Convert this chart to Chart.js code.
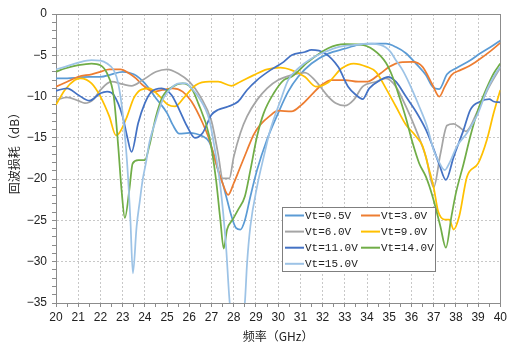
<!DOCTYPE html>
<html>
<head>
<meta charset="utf-8">
<script src="https://cdn.jsdelivr.net/npm/chart.js@4/dist/chart.umd.min.js"></script>
<style>
  html, body { margin: 0; padding: 0; background: #fff; }
  #c { display: block; }
</style>
</head>
<body>
<canvas id="c" width="510" height="346"></canvas>
<script>
// Return loss (dB) versus frequency (GHz) for each tuning voltage Vt
const seriesLabels = ['Vt=0.5V', 'Vt=3.0V', 'Vt=6.0V', 'Vt=9.0V', 'Vt=11.0V', 'Vt=14.0V', 'Vt=15.0V'];
const seriesColors = ['#5B9BD5', '#ED7D31', '#A5A5A5', '#FFC000', '#4472C4', '#70AD47', '#9DC3E6'];

const freqV05 = [20, 20.5, 21, 21.5, 22, 22.5, 23, 23.5, 24, 24.5, 25, 25.25, 25.55, 26, 26.3, 26.6, 26.9, 27.1, 27.3, 27.5, 27.7, 27.9, 28.1, 28.3, 28.5, 28.75, 29.05, 29.5, 30, 30.45, 30.9, 31.5, 32.25, 33, 33.6, 34.2, 34.85, 35.3, 35.75, 36.2, 36.65, 36.95, 37.25, 37.6, 38.05, 38.65, 39.1, 39.7, 40];
const rlV05 = [-7.8, -7.8, -7.7, -7.6, -7.6, -7.3, -7.0, -7.3, -8.4, -10.2, -12.0, -13.4, -14.5, -14.4, -14.5, -14.8, -15.5, -17, -19, -20.5, -22.5, -24.5, -25.9, -26.1, -25, -22.1, -18.9, -15.2, -12, -9.4, -7.6, -6.0, -4.8, -4.2, -3.75, -3.6, -3.6, -4.0, -4.75, -6.0, -7.4, -8.8, -9.1, -7.3, -6.5, -5.6, -4.75, -3.75, -3.2];

const freqV30 = [20, 20.5, 21, 21.6, 22, 22.4, 22.9, 23.3, 23.6, 23.9, 24.4, 24.8, 25.25, 25.7, 26.1, 26.6, 26.9, 27.2, 27.5, 27.75, 28.0, 28.3, 28.6, 28.9, 29.2, 29.6, 30.0, 30.6, 31.05, 31.5, 31.95, 32.4, 33.0, 33.6, 34.0, 34.6, 35.0, 35.5, 36.05, 36.5, 36.95, 37.25, 37.5, 37.8, 38.2, 38.6, 39.0, 39.6, 40];
const rlV30 = [-8.8, -8.2, -7.6, -7.3, -7.0, -6.7, -6.7, -7.2, -7.8, -8.6, -9.4, -9.2, -9.0, -9.4, -10.6, -13.2, -15.2, -18, -20.5, -21.9, -20.5, -18.5, -16.5, -14.6, -13.4, -12.4, -11.7, -11.8, -11.0, -9.8, -8.6, -8.0, -8.0, -8.2, -8.2, -7.2, -6.4, -5.85, -5.8, -6.4, -8.6, -10.0, -8.8, -7.4, -6.8, -6.3, -5.6, -4.4, -3.5];

const freqV60 = [20, 20.5, 21, 21.3, 21.7, 22, 22.5, 23, 23.4, 23.9, 24.5, 25, 25.5, 26, 26.5, 27, 27.3, 27.5, 27.8, 28, 28.3, 28.6, 29.05, 29.5, 30, 30.6, 31.2, 31.65, 32.25, 32.6, 33, 33.4, 33.8, 34.4, 34.85, 35.3, 35.75, 36.2, 36.65, 37, 37.3, 37.6, 37.9, 38.1, 38.45, 39, 39.5, 40];
const rlV60 = [-10.4, -10.1, -10.5, -10.8, -10.3, -9.2, -8.2, -8.5, -8.7, -8.0, -7.0, -6.7, -7.2, -8.2, -10.0, -13.0, -17.0, -19.9, -19.9, -17.3, -14.4, -12.4, -10.4, -9.0, -8.0, -7.4, -7.1, -8.0, -10.0, -10.8, -11.1, -10.4, -8.8, -8.2, -7.8, -8.8, -11.2, -14.0, -17.3, -21.0, -17.0, -13.5, -13.3, -13.6, -14.2, -11.6, -8.8, -6.5];

const freqV90 = [20, 20.4, 20.85, 21.1, 21.6, 22, 22.4, 22.7, 22.9, 23.2, 23.5, 23.8, 24.2, 24.6, 25.05, 25.35, 25.8, 26.3, 26.9, 27.3, 27.9, 28.3, 28.9, 29.5, 30.1, 30.6, 31.2, 31.7, 32.25, 32.85, 33.4, 34.0, 34.4, 34.85, 35.3, 35.75, 36.2, 36.5, 36.8, 37.0, 37.2, 37.5, 37.7, 37.9, 38.15, 38.5, 39.0, 39.4, 39.7, 40];
const rlV90 = [-11.0, -9.2, -8.0, -7.8, -8.4, -10.0, -12.4, -14.7, -14.2, -12.4, -10.2, -9.2, -9.0, -9.8, -11.0, -11.2, -10.0, -8.6, -8.2, -8.2, -8.7, -8.2, -7.4, -6.7, -6.5, -6.8, -7.6, -8.8, -8.3, -6.6, -6.0, -6.4, -7.0, -9.0, -11.2, -13.4, -14.8, -16.0, -18.9, -21.0, -23.9, -24.9, -24.9, -26.1, -24.5, -19.7, -18.1, -15.2, -12.0, -9.2];

const freqV110 = [20, 20.5, 21, 21.5, 22, 22.3, 22.6, 23.0, 23.2, 23.4, 23.7, 24.0, 24.3, 24.75, 25.2, 25.55, 25.9, 26.25, 26.6, 27.0, 27.3, 27.75, 28.2, 28.6, 29.05, 29.65, 30.25, 30.6, 31.2, 31.5, 32.1, 32.7, 33.15, 33.5, 33.8, 34.1, 34.6, 34.95, 35.3, 35.75, 36.2, 36.65, 36.95, 37.25, 37.55, 37.9, 38.35, 38.65, 39.1, 39.5, 39.7, 40];
const rlV110 = [-9.3, -9.0, -9.8, -10.5, -9.6, -9.4, -9.8, -12.4, -14.8, -16.7, -13.2, -10.8, -9.4, -9.0, -9.8, -11.6, -13.6, -15.0, -14.4, -12.2, -11.6, -11.2, -10.6, -9.2, -8.0, -6.8, -5.8, -5.0, -4.6, -4.35, -4.75, -6.4, -8.8, -9.8, -10.3, -9.0, -8.0, -7.6, -8.2, -10.0, -11.8, -14.0, -16.0, -18.2, -20.1, -17.3, -14.0, -11.6, -10.6, -10.3, -10.6, -10.7];

const freqV140 = [20, 20.4, 21, 21.6, 22, 22.3, 22.6, 22.8, 22.95, 23.1, 23.3, 23.45, 23.7, 24.0, 24.2, 24.5, 24.8, 25.25, 25.7, 26.1, 26.4, 26.9, 27.2, 27.4, 27.55, 27.7, 27.95, 28.2, 28.5, 28.75, 29.05, 29.35, 29.8, 30.25, 30.6, 31.35, 32.25, 33.0, 33.7, 34.3, 34.85, 35.15, 35.45, 35.75, 36.05, 36.35, 36.65, 36.95, 37.3, 37.55, 37.8, 38.0, 38.35, 38.65, 39.0, 39.35, 39.7, 40];
const rlV140 = [-7.0, -6.6, -6.2, -6.0, -6.2, -7.2, -10.0, -16.0, -21.3, -24.7, -21.3, -18.1, -17.7, -17.7, -16.0, -12.4, -10.0, -8.8, -8.4, -9.0, -10.8, -14.8, -20.0, -25.0, -28.4, -26.1, -24.9, -23.7, -22.1, -18.9, -14.8, -12.0, -9.6, -8.0, -7.6, -5.8, -4.15, -3.65, -3.7, -4.35, -5.9, -7.6, -10.0, -12.6, -15.6, -18.1, -19.7, -22.1, -25.7, -28.3, -24.5, -21.7, -18.1, -14.8, -11.6, -9.2, -7.2, -6.0];

const freqV150 = [20, 20.4, 21, 21.6, 22, 22.3, 22.6, 22.8, 23.0, 23.2, 23.35, 23.46, 23.63, 23.78, 23.9, 24.05, 24.2, 24.5, 24.8, 25.25, 25.55, 25.85, 26.1, 26.4, 26.9, 27.1, 27.4, 27.65, 27.82, 28.0, 28.3, 28.5, 28.6, 28.75, 29.05, 29.35, 29.65, 30.1, 30.45, 30.9, 31.5, 32.1, 32.7, 33.45, 34.0, 34.6, 35.05, 35.3, 35.6, 35.9, 36.35, 36.7, 37.0, 37.2, 37.5, 37.7, 38.05, 38.5, 39.0, 39.4, 39.7, 40];
const rlV150 = [-6.7, -6.4, -5.9, -5.6, -5.65, -6.0, -6.8, -8.4, -12.0, -18.0, -25.0, -31.4, -25.7, -22.5, -20.1, -18.0, -15.6, -12.8, -10.4, -8.8, -8.4, -8.4, -9.0, -10.0, -12.8, -15.6, -20.9, -28.0, -35.0, -38.0, -38.0, -35.0, -30.2, -25.7, -20.9, -17.3, -14.0, -10.5, -8.0, -6.6, -5.4, -4.6, -4.0, -3.75, -3.6, -3.75, -4.55, -5.6, -6.8, -8.4, -11.2, -13.6, -16.5, -17.7, -18.9, -18.1, -16.0, -14.4, -12.0, -9.2, -7.6, -6.4];

const freqs = [freqV05, freqV30, freqV60, freqV90, freqV110, freqV140, freqV150];
const losses = [rlV05, rlV30, rlV60, rlV90, rlV110, rlV140, rlV150];

const xTitle = '频率（GHz）';
const yTitle = '回波损耗（dB）';

const AXIS_COLOR = '#8c8c8c';
const GRID_COLOR = '#c8c8c8';
const TEXT_COLOR = '#222';
const TEXT_FONT = "'Liberation Sans', Arial, sans-serif";
const CJK_FONT = "'Noto Sans CJK SC', 'Noto Sans', sans-serif";

const datasets = seriesLabels.map((label, i) => ({
  label,
  data: freqs[i].map((f, k) => ({ x: f, y: losses[i][k] })),
  borderColor: seriesColors[i],
  backgroundColor: seriesColors[i],
  borderWidth: 1.75,
  pointRadius: 0,
  tension: 0.35,
  cubicInterpolationMode: 'monotone',
  order: seriesLabels.length - i
}));

// Frame around the plotting area (top and right edges included)
const plotFrame = {
  id: 'plotFrame',
  beforeDatasetsDraw(chart) {
    const { ctx, chartArea: a } = chart;
    ctx.save();
    ctx.strokeStyle = AXIS_COLOR;
    ctx.lineWidth = 1;
    ctx.strokeRect(Math.round(a.left) + 0.5, Math.round(a.top) + 0.5,
                   Math.round(a.right - a.left), Math.round(a.bottom - a.top));
    ctx.restore();
  }
};

// Rotated y-axis title, centred a little above the middle of the plot
const yAxisTitle = {
  id: 'yAxisTitle',
  afterDraw(chart) {
    const { ctx, chartArea: a } = chart;
    ctx.save();
    ctx.translate(14, (a.top + a.bottom) / 2 - 8);
    ctx.rotate(-Math.PI / 2);
    ctx.font = '12px ' + CJK_FONT;
    ctx.fillStyle = TEXT_COLOR;
    ctx.textAlign = 'center';
    ctx.textBaseline = 'middle';
    ctx.fillText(yTitle, 0, 0);
    ctx.restore();
  }
};

// Boxed two-column legend placed inside the plot
const insetLegend = {
  id: 'insetLegend',
  afterDatasetsDraw(chart) {
    const { ctx } = chart;
    const box = { x: 282.5, y: 207.5, w: 153, h: 64 };
    ctx.save();
    ctx.fillStyle = '#ffffff';
    ctx.fillRect(box.x, box.y, box.w, box.h);
    ctx.strokeStyle = '#7f7f7f';
    ctx.lineWidth = 1;
    ctx.strokeRect(box.x, box.y, box.w, box.h);
    ctx.font = "11px 'Liberation Mono', 'DejaVu Sans Mono', monospace";
    ctx.textBaseline = 'middle';
    ctx.textAlign = 'left';
    const colX = [285, 361];
    const rowY0 = 215.5, rowStep = 16.1;
    chart.data.datasets.forEach((ds, i) => {
      const col = i % 2, row = Math.floor(i / 2);
      const x = colX[col], y = rowY0 + row * rowStep;
      ctx.strokeStyle = ds.borderColor;
      ctx.lineWidth = 2;
      ctx.beginPath();
      ctx.moveTo(x, y);
      ctx.lineTo(x + 19, y);
      ctx.stroke();
      ctx.fillStyle = TEXT_COLOR;
      ctx.fillText(ds.label, x + 20, y + 0.5);
    });
    ctx.restore();
  }
};

new Chart(document.getElementById('c'), {
  type: 'line',
  data: { datasets },
  options: {
    responsive: false,
    animation: false,
    devicePixelRatio: 1,
    layout: { padding: { left: 0, right: 7, top: 14, bottom: 0 } },
    plugins: { legend: { display: false }, tooltip: { enabled: false } },
    scales: {
      x: {
        type: 'linear',
        min: 20, max: 40,
        afterFit(scale) { scale.height = 43; },
        ticks: {
          stepSize: 0.5,
          autoSkip: false,
          maxRotation: 0,
          padding: 3,
          color: TEXT_COLOR,
          font: { family: TEXT_FONT, size: 12 },
          callback: v => Number.isInteger(v) ? String(v) : ''
        },
        grid: {
          color: c => (c.tick && Number.isInteger(c.tick.value)) ? GRID_COLOR : 'rgba(0,0,0,0)',
          tickColor: AXIS_COLOR,
          tickLength: 4,
          lineWidth: 1
        },
        border: { color: AXIS_COLOR, width: 1, dash: [2, 2] },
        title: {
          display: true,
          text: xTitle,
          color: TEXT_COLOR,
          font: { family: CJK_FONT, size: 12 },
          padding: { top: 0, bottom: 2 }
        }
      },
      y: {
        min: -35, max: 0,
        afterFit(scale) { scale.width = 56; },
        ticks: {
          stepSize: 1,
          autoSkip: false,
          padding: 5,
          color: TEXT_COLOR,
          font: { family: TEXT_FONT, size: 12 },
          callback: v => (v % 5 === 0) ? String(v).replace('-', '\u2212') : ''
        },
        grid: {
          color: c => (c.tick && c.tick.value % 5 === 0) ? GRID_COLOR : 'rgba(0,0,0,0)',
          tickColor: AXIS_COLOR,
          tickLength: 4,
          lineWidth: 1
        },
        border: { color: AXIS_COLOR, width: 1, dash: [2, 2] },
        title: { display: false }
      }
    }
  },
  plugins: [plotFrame, insetLegend, yAxisTitle]
});
</script>
</body>
</html>
